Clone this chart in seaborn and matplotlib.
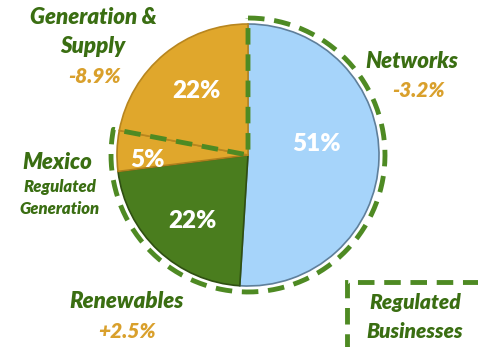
import matplotlib
matplotlib.use("Agg")
import matplotlib.pyplot as plt
import seaborn as sns
import numpy as np
from matplotlib.patches import Rectangle

# ---- data ----
segments = ["Networks", "Renewables", "Mexico Regulated Generation", "Generation & Supply"]
shares = [51, 22, 5, 22]
share_labels = ["51%", "22%", "5%", "22%"]
changes = ["-3.2%", "+2.5%", "", "-8.9%"]
colors = ["#A6D4FA", "#4A7D1E", "#E0A72C", "#E0A72C"]

sns.set_theme(style="white")
plt.rcParams['font.family'] = ['Lato', 'DejaVu Sans']

W, H = 478, 347
fig = plt.figure(figsize=(W / 100, H / 100), dpi=100)
ax = fig.add_axes([0, 0, 1, 1])

def Y(y):
    return H - y

cx, cy, R = 248, Y(155), 131
edge_cols = ["#5F7F9A", "#2F4F12", "#B07F1C", "#B8861F"]
wedges, texts = ax.pie(shares, colors=colors, startangle=90, counterclock=False,
                       center=(cx, cy), radius=R, frame=True,
                       wedgeprops=dict(linewidth=1.2))
for w, ec in zip(wedges, edge_cols):
    w.set_edgecolor(ec)
ax.set_xlim(0, W)
ax.set_ylim(0, H)
ax.set_aspect('equal')
ax.axis('off')

# percentage labels
pct_pos = [(317, 144), (192, 221), (147, 160), (196, 91)]
for lab, (x, y) in zip(share_labels, pct_pos):
    ax.text(x, Y(y), lab, color="white", fontsize=17.5, fontweight="heavy",
            ha="center", va="center")

# dashed outline of regulated businesses
green = "#4E8A23"
Rd = 137
theta = np.linspace(np.deg2rad(90), np.deg2rad(90 - 360 * 0.78), 200)
xs = list(cx + Rd * np.cos(theta)) + [cx, cx]
ys = list(cy + Rd * np.sin(theta)) + [cy, cy + Rd]
ax.plot(xs, ys, color=green, lw=3.5, ls=(0, (3.4, 2.0)), solid_capstyle='butt')

# Regulated Businesses box
ax.add_patch(Rectangle((347, Y(360)), 160, 78, fill=False, edgecolor=green,
                       lw=3.5, ls=(0, (3.4, 2.0))))

label_green = "#3A6E12"
gold = "#D9A02C"
kw = dict(fontweight="heavy", style="italic", ha="center", va="center")
ax.text(93, Y(17), "Generation &", color=label_green, fontsize=16, **kw)
ax.text(93, Y(46), "Supply", color=label_green, fontsize=16, **kw)
ax.text(95, Y(76), changes[3], color=gold, fontsize=15, **kw)

ax.text(412, Y(61), "Networks", color=label_green, fontsize=16, **kw)
ax.text(419, Y(90), changes[0], color=gold, fontsize=15, **kw)

ax.text(57, Y(162), "Mexico", color=label_green, fontsize=16, **kw)
ax.text(60, Y(187), "Regulated", color=label_green, fontsize=12, **kw)
ax.text(60, Y(209), "Generation", color=label_green, fontsize=12, **kw)

ax.text(127, Y(302), "Renewables", color=label_green, fontsize=16, **kw)
ax.text(127, Y(331), changes[1], color=gold, fontsize=15, **kw)

ax.text(415, Y(303), "Regulated", color=label_green, fontsize=15, **kw)
ax.text(415, Y(331), "Businesses", color=label_green, fontsize=15, **kw)

fig.savefig("out.png", dpi=100)
